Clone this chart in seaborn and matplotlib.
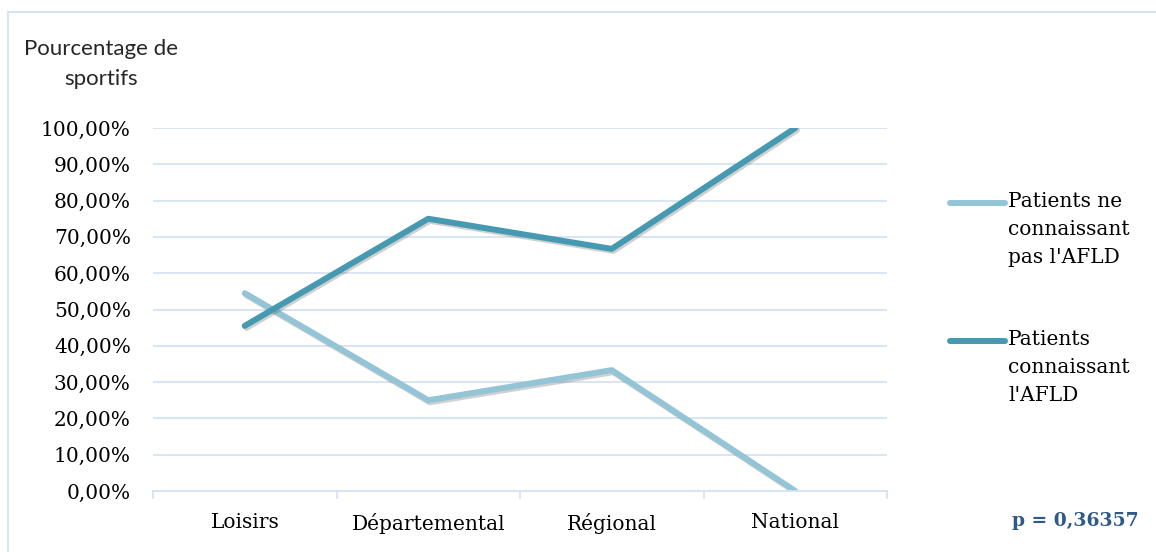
import pandas as pd
import seaborn as sns
import matplotlib.pyplot as plt
import matplotlib.patheffects as pe
from matplotlib.lines import Line2D
from matplotlib.patches import Rectangle
from matplotlib.ticker import FuncFormatter

# data
niveaux = ['Loisirs', 'Départemental', 'Régional', 'National']
ne_connaissant_pas = [54.5, 25.0, 33.3, 0.0]
connaissant = [45.5, 75.0, 66.7, 100.0]
series_labels = ["Patients ne\nconnaissant\npas l'AFLD", "Patients\nconnaissant\nl'AFLD"]
p_value_text = 'p = 0,36357'

colors = ['#93C5D6', '#4599B0']
grid_col = '#D6E3F3'
serif = ['DejaVu Serif']

df = pd.DataFrame({
    'niveau': niveaux * 2,
    'pct': ne_connaissant_pas + connaissant,
    'serie': [series_labels[0]] * 4 + [series_labels[1]] * 4,
})

sns.set_theme(style='white')
plt.rcParams['font.family'] = serif

fig = plt.figure(figsize=(11.56, 5.52), dpi=100)
ax = fig.add_axes([153 / 1156, 1 - 491 / 552, 734 / 1156, 363 / 552])

shadow = [pe.SimpleLineShadow(offset=(1.2, -1.5), shadow_color='#666666', alpha=0.3),
          pe.Normal()]
sns.lineplot(data=df, x='niveau', y='pct', hue='serie', palette=colors,
             linewidth=4.3, sort=False, legend=False, ax=ax,
             path_effects=shadow, solid_capstyle='round')

ax.set_xlim(-0.5, len(niveaux) - 0.5)
ax.set_ylim(0, 100)
ax.set_yticks(range(0, 101, 10))
ax.yaxis.set_major_formatter(FuncFormatter(lambda v, _: f'{v:.2f}%'.replace('.', ',')))
ax.grid(axis='y', color=grid_col, linewidth=1.3)
ax.set_axisbelow(True)
ax.set_xlabel('')
ax.set_ylabel('')

for side in ['top', 'right', 'left']:
    ax.spines[side].set_visible(False)
ax.spines['bottom'].set_color(grid_col)
ax.spines['bottom'].set_linewidth(1.3)

# category labels centred, tick marks on the boundaries
ax.set_xticks(range(len(niveaux)))
ax.set_xticklabels(niveaux)
ax.set_xticks([i - 0.5 for i in range(len(niveaux) + 1)], minor=True)
ax.tick_params(axis='x', which='major', length=0, pad=16, labelsize=14.5, colors='black')
ax.tick_params(axis='x', which='minor', bottom=True, length=6, width=1.3,
               color=grid_col, direction='out')
ax.tick_params(axis='y', length=0, pad=16, labelsize=14.5, labelcolor='black')

# y title at the top left
fig.text(101 / 1156, 1 - 64 / 552, 'Pourcentage de\nsportifs', family=['Lato', 'DejaVu Sans'],
         fontsize=16, ha='center', va='center', multialignment='center', linespacing=1.6)

# legend drawn by hand, Excel style (key on the first text line)
for lab, col, ytop in zip(series_labels, colors, [203, 341]):
    yy = 1 - ytop / 552
    fig.add_artist(Line2D([950 / 1156, 1005 / 1156], [yy, yy], color=col, linewidth=4.3,
                          solid_capstyle='round', transform=fig.transFigure))
    fig.text(1008 / 1156, yy + 11 / 552, lab, fontsize=14.5, ha='left', va='top',
             linespacing=1.6, color='black')

fig.text(1075 / 1156, 1 - 521 / 552, p_value_text, fontsize=13.5, fontweight='bold',
         color='#2E5A8A', ha='center', va='center')

# outer chart frame
fig.add_artist(Rectangle((8 / 1156, -0.1), 1.2, 1 - 12 / 552 + 0.1, transform=fig.transFigure,
                         fill=False, edgecolor=grid_col, linewidth=1.5))

fig.savefig('out.png', dpi=100)
